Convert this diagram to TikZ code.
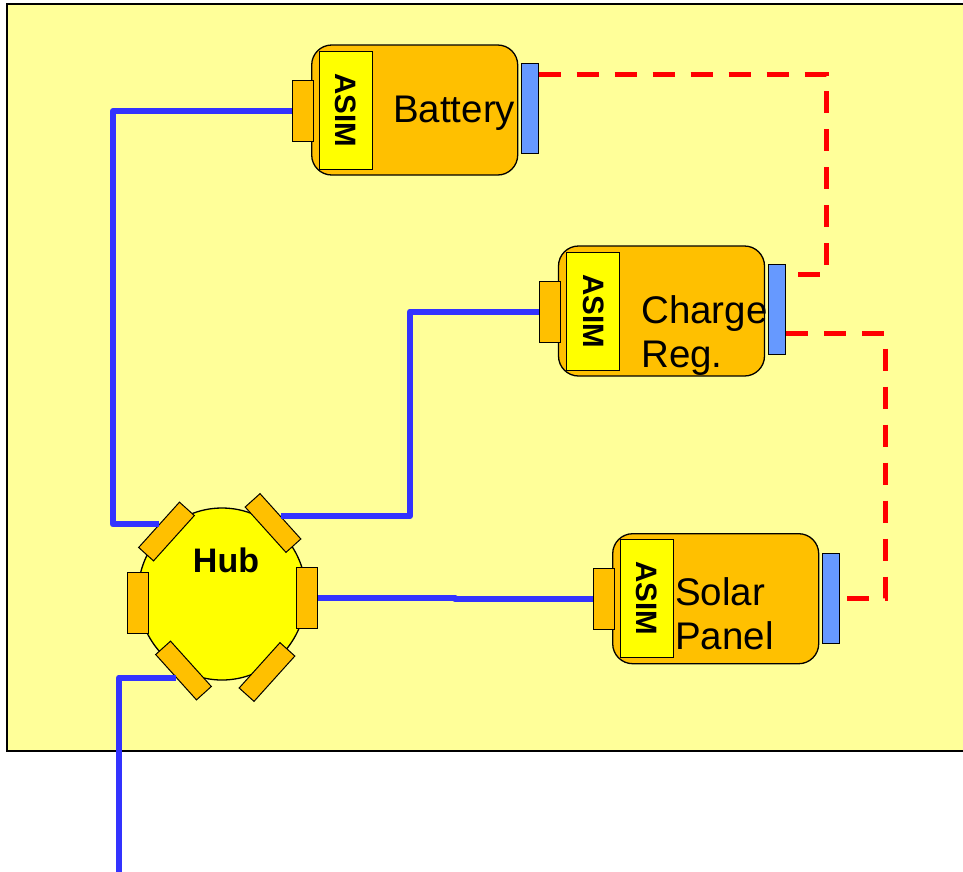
\documentclass[tikz,border=0pt]{standalone}
\usepackage{fontspec}
\setmainfont{Liberation Sans}
\usetikzlibrary{shapes.geometric}

\definecolor{boardbg}{HTML}{FFFF99}
\definecolor{modorange}{HTML}{FFC000}
\definecolor{asimyellow}{HTML}{FFFF00}
\definecolor{busblue}{HTML}{6699FF}
\definecolor{wireblue}{HTML}{3333FF}
\definecolor{busred}{HTML}{FF0000}

\tikzset{
  module/.style={draw, line width=1.3pt, fill=modorange, rounded corners=20pt, minimum width=206pt, minimum height=130pt, inner sep=0pt},
  asim/.style={draw, line width=1pt, fill=asimyellow, rotate=-90, minimum width=118pt, minimum height=53pt, inner sep=0pt, font=\fontsize{29.5}{29.5}\selectfont\bfseries},
  port/.style={draw, line width=1pt, fill=modorange, minimum width=21pt, minimum height=61pt, inner sep=0pt},
  hubport/.style={port, minimum width=61pt, minimum height=20pt},
  busport/.style={draw, line width=1pt, fill=busblue, minimum width=17pt, minimum height=90pt, inner sep=0pt},
  modtext/.style={inner sep=0pt, align=left, font=\fontsize{38.5}{44}\selectfont},
  wire/.style={draw=wireblue, line width=6pt, line join=round},
  bus/.style={draw=busred, line width=5pt, dash pattern=on 22pt off 16pt}
}

\begin{document}
\begin{tikzpicture}[x=1pt, y=-1pt]

\useasboundingbox (0,0) rectangle (963,871);
\draw[fill=boardbg, line width=1.3pt] (7,4) rectangle (975,751);

% battery
\node[module] (bat) at (414.7,110) {};
\node[asim] (batasim) at (345.5,110) {ASIM};
\node[port] (batport) at (303,111) {};
\node[busport] (batbus) at (529.5,108) {};
\node[modtext, anchor=base west] (battxt) at (393,122) {Battery};

% charge regulator
\node[module] (chg) at (661.5,311) {};
\node[asim] (chgasim) at (593.3,311) {ASIM};
\node[port] (chgport) at (550,311.5) {};
\node[busport] (chgbus) at (777,309) {};
\node[modtext, anchor=north west] (chgtxt) at (641,295) {Charge\\Reg.};

% solar panel
\node[module] (sol) at (715.7,598.7) {};
\node[asim] (solasim) at (647,598.5) {ASIM};
\node[port] (solport) at (604,599) {};
\node[busport] (solbus) at (831,598.3) {};
\node[modtext, anchor=north west] (soltxt) at (675,577) {Solar\\Panel};

% hub
\node[draw, ellipse, fill=asimyellow, line width=1.3pt, minimum width=168pt, minimum height=172pt, inner sep=0pt] (hub) at (222,594) {};
\node[port] (hubl) at (137.5,603) {};
\node[port] (hubr) at (307,597.5) {};
\node[hubport, rotate=48] (hubul) at (166.5,531.5) {};
\node[hubport, rotate=-48] (hubur) at (273,523) {};
\node[hubport, rotate=-48] (hubll) at (183.5,670.5) {};
\node[hubport, rotate=48] (hublr) at (267,672) {};
\node[inner sep=0pt, anchor=base, font=\fontsize{34}{34}\selectfont\bfseries] (hubtxt) at (226,572.5) {Hub};

% wires
\coordinate (feed) at (119,880);
\draw[wire] (hubul.north) -| (113,0 |- batport.west) -- (batport.west);
\draw[wire] (hubur.north) -| (410,0 |- chgport.west) -- (chgport.west);
\draw[wire] (hubr.east) -- (455,0 |- hubr.east) |- (solport.west);
\draw[wire] (hubll.south) -| (feed);

% power bus
\draw[bus] ([yshift=-12pt]batbus.north east) -| ([xshift=40pt,yshift=-11pt]chgbus.north east) -- ([yshift=-11pt]chgbus.north east);
\draw[bus] ([yshift=21pt]chgbus.south east) -| ([xshift=45pt]solbus.east) -- (solbus.east);

\end{tikzpicture}
\end{document}
